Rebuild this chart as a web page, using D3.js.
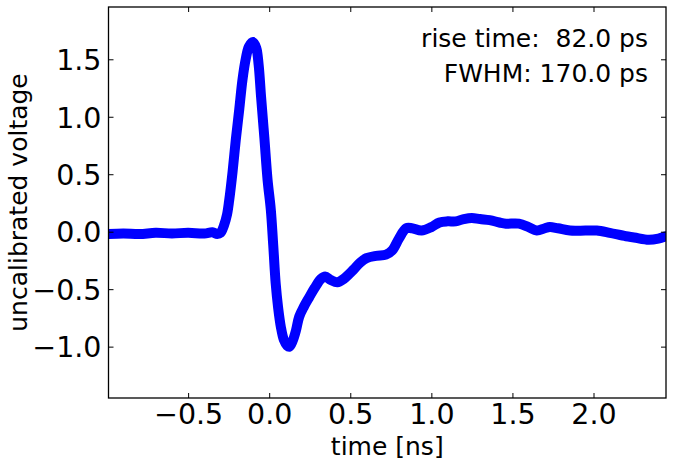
<!DOCTYPE html>
<html><head><meta charset="utf-8">
<script src="https://cdn.jsdelivr.net/npm/d3@7"></script>
<style>body{margin:0;background:#fff}svg{display:block}text{font-family:"DejaVu Sans",sans-serif;fill:#000}</style>
</head><body>
<svg id="c" width="673" height="467"></svg>
<script>
const timeNs = [-0.99,-0.9,-0.8,-0.7,-0.6,-0.5,-0.4,-0.35,-0.32,-0.30,-0.28,-0.26,-0.247,-0.226,-0.206,-0.185,-0.165,-0.145,-0.125,-0.10,-0.08,-0.065,-0.05,-0.03,-0.01,0.01,0.025,0.04,0.055,0.072,0.09,0.11,0.125,0.145,0.165,0.185,0.215,0.247,0.28,0.32,0.345,0.38,0.42,0.46,0.52,0.56,0.60,0.66,0.72,0.76,0.80,0.845,0.88,0.94,1.0,1.05,1.1,1.15,1.2,1.25,1.3,1.36,1.42,1.46,1.54,1.6,1.65,1.7,1.73,1.78,1.855,1.95,2.02,2.1,2.2,2.25,2.34,2.4,2.447];
const voltage = [-0.02,-0.015,-0.02,-0.01,-0.015,-0.01,-0.015,-0.005,-0.02,-0.01,0.05,0.15,0.27,0.52,0.80,1.06,1.32,1.50,1.61,1.65,1.60,1.45,1.17,0.82,0.45,0.19,-0.12,-0.45,-0.66,-0.83,-0.94,-0.99,-1.0,-0.95,-0.86,-0.74,-0.65,-0.57,-0.49,-0.41,-0.39,-0.42,-0.44,-0.41,-0.33,-0.27,-0.23,-0.21,-0.20,-0.16,-0.06,0.03,0.03,0.01,0.04,0.08,0.09,0.09,0.11,0.12,0.11,0.10,0.08,0.07,0.07,0.04,0.01,0.03,0.04,0.03,0.01,0.01,0.01,-0.01,-0.04,-0.05,-0.07,-0.06,-0.04];
const xTicks = [-0.5,0.0,0.5,1.0,1.5,2.0];
const yTicks = [-1.0,-0.5,0.0,0.5,1.0,1.5];
const xDomain = [-0.991, 2.447];
const yDomain = [-1.447, 1.955];
const annotations = ["rise time:  82.0 ps","FWHM: 170.0 ps"];
const xLabel = "time [ns]";
const yLabel = "uncalibrated voltage";

const L=108.5,T=7,R=666,B=398;
const svg=d3.select("#c");
const x=d3.scaleLinear().domain(xDomain).range([L,R]);
const y=d3.scaleLinear().domain(yDomain).range([B,T]);
const fmt=d3.format(".1f");
const minusFmt=v=>fmt(v).replace("-","\u2212");

svg.append("defs").append("clipPath").attr("id","clip").append("rect").attr("x",L).attr("y",T).attr("width",R-L).attr("height",B-T);
const data=timeNs.map((t,i)=>[t,voltage[i]]);
svg.append("path").datum(data).attr("clip-path","url(#clip)")
  .attr("fill","none").attr("stroke","#0000ff").attr("stroke-width",10)
  .attr("stroke-linejoin","round").attr("stroke-linecap","round")
  .attr("d",d3.line().x(d=>x(d[0])).y(d=>y(d[1])).curve(d3.curveCatmullRom.alpha(0.5)));

const tl=5;
const gx=svg.append("g").attr("transform",`translate(0,${B})`).call(d3.axisBottom(x).tickValues(xTicks).tickSize(-tl).tickPadding(12).tickFormat(minusFmt));
const gxt=svg.append("g").attr("transform",`translate(0,${T})`).call(d3.axisTop(x).tickValues(xTicks).tickSize(-tl).tickFormat(""));
const gy=svg.append("g").attr("transform",`translate(${L},0)`).call(d3.axisLeft(y).tickValues(yTicks).tickSize(-tl).tickPadding(7).tickFormat(minusFmt));
const gyr=svg.append("g").attr("transform",`translate(${R},0)`).call(d3.axisRight(y).tickValues(yTicks).tickSize(-tl).tickFormat(""));
[gx,gxt,gy,gyr].forEach(g=>{g.select(".domain").remove();g.selectAll("line").attr("stroke","#000").attr("stroke-width",1);g.selectAll("text").style("font-family","'DejaVu Sans'").style("font-size","28.5px").attr("fill","#000");});
gx.selectAll("text").attr("dy",null).attr("y",null).attr("transform",`translate(0,26)`).attr("dominant-baseline","auto");
gy.selectAll("text").attr("dy","0.36em");

svg.append("rect").attr("x",L).attr("y",T).attr("width",R-L).attr("height",B-T).attr("fill","none").attr("stroke","#000").attr("stroke-width",1.3);

svg.append("text").attr("x",(L+R)/2).attr("y",455).attr("text-anchor","middle").style("font-size","25px").text(xLabel);
svg.append("text").attr("transform",`translate(27,${(T+B)/2}) rotate(-90)`).attr("text-anchor","middle").style("font-size","25px").text(yLabel);
annotations.forEach((a,i)=>svg.append("text").attr("x",648).attr("y",47+i*35).attr("text-anchor","end").style("font-size","25px").style("white-space","pre").text(a));
</script>
</body></html>
